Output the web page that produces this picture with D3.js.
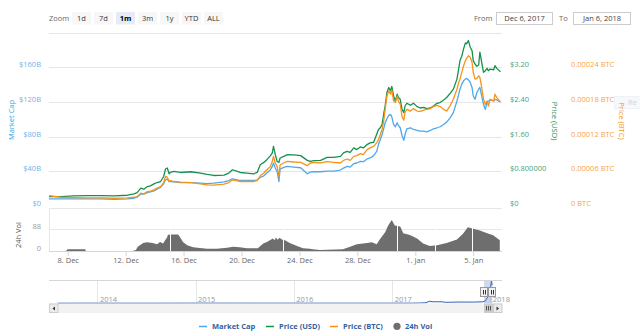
<!DOCTYPE html>
<html><head><meta charset="utf-8">
<script src="https://cdn.jsdelivr.net/npm/d3@7"></script>
<style>body{margin:0;background:#fff}svg{display:block}</style>
</head><body><svg id="c" width="640" height="336"></svg>
<script>
// ---------------- DATA ----------------
// hours since 2017-12-06 00:00 UTC
const hours = [17,36,58,80,103,125,147,158,163,169,174,180,185,191,196,202,207,210,213,216,
218,224,235,252,268,279,290,307,315,321,329,334,345,356,362,367,373,378,384,387,
389,392,395,398,400,406,412,423,434,445,450,456,467,478,489,500,505,511,516,522,
527,533,538,544,549,555,560,563,566,569,572,574,577,580,583,585,588,591,594,596,
599,602,605,607,610,616,621,627,632,638,643,649,654,660,665,671,676,682,687,693,
696,698,701,704,707,709,712,715,718,720,723,726,729,731,734,737,740,743,745,748,
754,756,759,765];
const marketCapB = [8.93,8.93,8.93,8.93,8.93,8.58,8.93,9.74,10.90,14.72,
14.38,16.23,17.04,18.20,20.17,22.49,26.32,30.96,31.77,28.99,
28.99,28.64,27.83,27.83,27.13,26.67,27.13,28.64,30.14,32.12,
30.96,30.14,30.14,30.14,30.96,33.62,35.59,38.72,42.55,46.38,
50.32,44.52,40.58,28.99,43.36,45.22,46.38,45.68,44.87,37.91,
39.88,40.23,40.23,41.04,41.04,42.20,44.52,46.38,45.68,49.51,
50.32,52.17,51.83,54.96,56.11,58.78,63.77,71.53,77.33,83.13,
90.90,96.69,101.33,105.16,106.32,103.65,94.72,92.06,96.69,93.56,
90.90,81.97,76.52,83.13,89.74,90.90,88.93,87.77,86.96,86.96,
86.26,87.77,89.74,90.90,92.06,94.72,97.39,102.49,108.29,121.74,
129.50,135.30,141.10,144.93,146.90,147.71,146.08,143.07,137.27,127.53,
123.71,131.48,135.30,137.27,127.53,117.91,112.11,121.04,121.74,122.90,
121.74,123.71,122.90,120.58];
const priceUsd = [0.232,0.232,0.248,0.255,0.255,0.248,0.264,0.295,0.325,0.427,
0.404,0.464,0.480,0.526,0.557,0.580,0.696,0.867,0.891,0.758,
0.788,0.812,0.788,0.805,0.775,0.742,0.719,0.728,0.775,0.851,
0.812,0.788,0.775,0.758,0.788,0.967,1.020,1.083,1.176,1.238,
1.391,1.199,1.044,1.020,1.122,1.160,1.199,1.192,1.176,1.067,
1.044,1.060,1.067,1.136,1.136,1.160,1.238,1.275,1.252,1.354,
1.315,1.377,1.354,1.431,1.470,1.484,1.670,1.779,1.818,1.895,
2.166,2.319,2.630,2.746,2.667,2.769,2.551,2.435,2.590,2.514,
2.474,2.242,2.166,2.319,2.382,2.335,2.382,2.305,2.273,2.289,
2.259,2.273,2.319,2.382,2.398,2.458,2.514,2.614,2.706,2.938,
3.186,3.363,3.465,3.634,3.773,3.750,3.826,3.673,3.594,3.363,
3.286,3.233,3.263,3.557,3.325,3.094,3.131,3.186,3.131,3.170,
3.154,3.247,3.186,3.107];
// price in satoshi (1e-8 BTC)
const priceBtcSat = [1910,1630,1570,1510,1510,1460,1510,1630,1740,2330,
2210,2610,2680,2900,3200,3480,4170,5220,5110,4350,
4520,4350,4240,4170,3950,3770,3720,3900,4170,4640,
4470,4350,4350,4350,4520,5340,5810,6380,6960,7830,
8700,7550,6960,5220,7250,7550,7830,7720,7650,7080,
7550,7650,7550,7770,7650,7550,8000,8240,8000,8700,
8820,9160,8990,9860,10160,10430,11030,11600,12470,13340,
15080,16820,19130,20000,19420,20170,18260,17980,19130,18260,
17690,15550,14960,16350,16820,16520,16940,16520,16470,16690,
16820,16940,17290,17510,17290,16820,16520,17510,18560,20290,
21460,22030,23200,24350,25220,25630,26090,25810,24940,23200,
22030,22150,22610,22330,20590,18560,17690,18260,17390,18560,
18260,19420,18850,18090];
const volHours = [17,45,48,77,78,155,161,164,173,179,189,196,201,206,213,214,221,231,234,239,
246,256,267,279,295,312,322,333,345,363,372,378,383,388,391,393,396,399,403,408,
416,428,438,449,454,466,504,516,527,544,552,560,565,574,579,585,590,599,604,615,
627,637,648,660,676,693,703,711,720,731,743,753,764];
const vol24h = [0,0,6.8,6.8,0,0,4,17,33,36,33,28,37,31,57,67,68,68,57,37,
24,15,12,9,9,13,17,15,11,11,31,37,44,51,44,55,46,54,47,44,
33,20,11,9,7,4,7,17,28,33,36,28,47,77,104,127,104,100,73,65,
51,31,20,24,33,47,71,97,91,84,73,64,44];
const volGapHours = [219,406,594,657,718];
const navDates = ["2013-08-04","2013-12-01","2014-01-01","2014-06-01","2014-12-01","2015-01-15","2015-06-01","2016-01-01","2016-06-01","2017-01-01","2017-03-15","2017-04-15","2017-05-05","2017-05-17","2017-06-01","2017-06-20","2017-07-05","2017-07-16","2017-08-01","2017-09-01","2017-10-01","2017-11-01","2017-12-01","2017-12-12","2017-12-21","2017-12-27","2017-12-30","2018-01-04","2018-01-06"];
const navMarketCapB = [0.04,0.2,0.15,0.04,0.2,0.5,0.3,0.2,0.25,0.25,0.4,1.4,3,13,10,10,9.5,6,6.5,8,7.5,7.8,9.5,15,44,55,100,148,122];
const navYears = ["2014","2015","2016","2017","2018"];
const xTickDates = ["2017-12-08","2017-12-12","2017-12-16","2017-12-20","2017-12-24","2017-12-28","2018-01-01","2018-01-05"];
const xTickLabels = ["8. Dec","12. Dec","16. Dec","20. Dec","24. Dec","28. Dec","1. Jan","5. Jan"];
const mcapTicks = [0,40,80,120,160,200];
const mcapLabels = ["$0","$40B","$80B","$120B","$160B",""];
const usdTicks = [0,0.8,1.6,2.4,3.2];
const usdLabels = ["$0","$0.800000","$1.60","$2.40","$3.20"];
const btcTicks = [0,6000,12000,18000,24000];
const btcLabels = ["0 BTC","0.00006 BTC","0.00012 BTC","0.00018 BTC","0.00024 BTC"];
const volTicks = [0,88,176];
const volLabels = ["0","88",""];
const zoomButtons = ["1d","7d","1m","3m","1y","YTD","ALL"];
const zoomSelected = "1m";
const rangeFrom = "Dec 6, 2017", rangeTo = "Jan 6, 2018";
const selFromHour = 17, selToHour = 766;
const legendNames = ["Market Cap","Price (USD)","Price (BTC)","24h Vol"];
const resetLabel = "Re";

// ---------------- DRAW ----------------
const FONT = "'Open Sans','DejaVu Sans',sans-serif";
const C = {mc:"#4fa8ea", usd:"#14914f", btc:"#f7931a", vol:"#6e6e6e", grid:"#e6e6e6", axis:"#ccd6eb"};
const svg = d3.select("#c").attr("font-family", FONT);
svg.append("rect").attr("width",640).attr("height",336).attr("fill","#fff");
const t0 = Date.UTC(2017,11,6);
const toDate = h => new Date(t0 + h*3600e3);
const crisp = v => Math.round(v - 0.5) + 0.5;

const plotL = 49, plotR = 501, mainTop = 33, mainBot = 206.7, volTop = 208, volBot = 251;
const x = d3.scaleUtc().domain([toDate(selFromHour), toDate(selToHour)]).range([plotL, plotR]);
const yMc = d3.scaleLinear().domain([0,200]).range([mainBot, mainTop]);
const yUsd = d3.scaleLinear().domain([0,4]).range([mainBot, mainTop]);
const yBtc = d3.scaleLinear().domain([0,30000]).range([mainBot, mainTop]);
const yVol = d3.scaleLinear().domain([0,176]).range([volBot, volTop]);

// gridlines main
svg.append("g").selectAll("line").data(mcapTicks.slice(1)).join("line")
  .attr("x1", plotL).attr("x2", plotR + 1)
  .attr("y1", d => crisp(yMc(d))).attr("y2", d => crisp(yMc(d)))
  .attr("stroke", C.grid);

// volume pane frame + grid
svg.append("g").selectAll("line").data(volTicks.slice(1)).join("line")
  .attr("x1", plotL).attr("x2", plotR + 1)
  .attr("y1", d => crisp(yVol(d))).attr("y2", d => crisp(yVol(d)))
  .attr("stroke", C.grid);
svg.append("line").attr("x1", crisp(plotL)).attr("x2", crisp(plotL))
  .attr("y1", volTop).attr("y2", volBot).attr("stroke", C.grid);

// volume area
const volArea = d3.area().x((d,i) => x(toDate(volHours[i]))).y0(yVol(0)).y1(d => yVol(d));
svg.append("path").datum(vol24h).attr("d", volArea).attr("fill", C.vol);
svg.append("g").selectAll("line").data(volGapHours).join("line")
  .attr("x1", d => crisp(x(toDate(d)))).attr("x2", d => crisp(x(toDate(d))))
  .attr("y1", volTop + 2).attr("y2", volBot).attr("stroke", "#fff").attr("stroke-width", 1);

// x axis
const gx = svg.append("g").attr("transform", `translate(0,${crisp(volBot)-0.5})`)
  .call(d3.axisBottom(x).tickValues(xTickDates.map(d => new Date(d + "T00:00:00Z")))
    .tickFormat((d,i) => xTickLabels[i]).tickSize(5).tickPadding(2));
gx.attr("font-family", FONT).attr("font-size", 7.5);
gx.select(".domain").remove();
gx.selectAll("line").attr("stroke", C.axis);
gx.selectAll("text").attr("fill", "#666");
svg.append("line").attr("x1", plotL).attr("x2", plotR + 1)
  .attr("y1", crisp(volBot)).attr("y2", crisp(volBot)).attr("stroke", C.axis);

// series lines
svg.append("clipPath").attr("id","clipMain").append("rect")
  .attr("x", plotL).attr("y", mainTop - 6).attr("width", plotR - plotL + 1).attr("height", mainBot - mainTop + 7);
const gL = svg.append("g").attr("clip-path","url(#clipMain)").attr("fill","none")
  .attr("stroke-width", 1.3).attr("stroke-linejoin","round");
const mkLine = (arr, ys) => d3.line().x((d,i) => x(toDate(hours[i]))).y(d => ys(d))(arr);
gL.append("path").attr("d", mkLine(marketCapB, yMc)).attr("stroke", C.mc);
gL.append("path").attr("d", mkLine(priceUsd, yUsd)).attr("stroke", C.usd);
gL.append("path").attr("d", mkLine(priceBtcSat, yBtc)).attr("stroke", C.btc);

// y axes
function yAxis(axisFn, scale, vals, labels, tx, pad, color) {
  const g = svg.append("g").attr("transform", `translate(${tx},0)`)
    .call(axisFn(scale).tickValues(vals).tickFormat((d,i) => labels[i]).tickSize(0).tickPadding(pad));
  g.attr("font-family", FONT).attr("font-size", 7.5);
  g.select(".domain").remove();
  g.selectAll("text").attr("fill", color).attr("dy", null).attr("y", -1);
  return g;
}
yAxis(d3.axisLeft, yMc, mcapTicks, mcapLabels, plotL, 8, "#6db4ec");
yAxis(d3.axisRight, yUsd, usdTicks, usdLabels, plotR, 9, "#4da07a");
yAxis(d3.axisRight, yBtc, btcTicks, btcLabels, plotR + 70, 0, "#f8a444");
yAxis(d3.axisLeft, yVol, volTicks, volLabels, plotL, 8, "#999");

// reset zoom button (partially visible at the right edge)
svg.append("rect").attr("x", 614.5).attr("y", 96.5).attr("width", 44).attr("height", 12)
  .attr("fill", "#f6f8fb").attr("stroke", "#eef1f6");
svg.append("text").attr("x", 628).attr("y", 105).attr("font-size", 7.5).attr("fill", "#cfd4dc").text(resetLabel);

// axis titles
const title = (txt, tx, ty, rot, color) => svg.append("text")
  .attr("transform", `translate(${tx},${ty}) rotate(${rot})`).attr("text-anchor", "middle")
  .attr("font-size", 7.5).attr("fill", color).text(txt);
title("Market Cap", 14, 120, -90, "#2f9fe9");
title("24h Vol", 21, 235, -90, "#555");
title("Price (USD)", 551.5, 121, 90, "#149050");
title("Price (BTC)", 619, 121, 90, "#f7931a");

// zoom buttons
svg.append("text").attr("x", 49).attr("y", 20.5).attr("font-size", 7.5).attr("fill", "#666").text("Zoom");
const gb = svg.append("g").selectAll("g").data(zoomButtons).join("g")
  .attr("transform", (d,i) => `translate(${72 + i*22},12)`);
gb.append("rect").attr("width", 19).attr("height", 12.5).attr("fill", d => d === zoomSelected ? "#e6ebf5" : "#f7f7f7");
gb.append("text").attr("x", 9.5).attr("y", 8.7).attr("text-anchor", "middle").attr("font-size", 7.5)
  .attr("font-weight", d => d === zoomSelected ? "bold" : "normal")
  .attr("fill", d => d === zoomSelected ? "#000" : "#333").text(d => d);

// date range inputs
const rng = [["From", 474, 496.5, 56, rangeFrom], ["To", 559, 573.5, 57, rangeTo]];
rng.forEach(([lab, lx, bx, bw, val]) => {
  svg.append("text").attr("x", lx).attr("y", 20.5).attr("font-size", 7.5).attr("fill", "#666").text(lab);
  svg.append("rect").attr("x", bx).attr("y", 12.5).attr("width", bw).attr("height", 12)
    .attr("fill", "#fff").attr("stroke", "#ccc");
  svg.append("text").attr("x", bx + bw/2).attr("y", 20.8).attr("text-anchor", "middle")
    .attr("font-size", 7.5).attr("fill", "#444").text(val);
});

// navigator
const navTop = 280, navBot = 303.5;
const xNav = d3.scaleUtc().domain([new Date("2013-07-03T00:00:00Z"), new Date("2018-02-08T00:00:00Z")]).range([plotL, 501]);
const yNav = d3.scaleLinear().domain([0,150]).range([navBot - 0.3, navTop + 1]);
svg.append("g").selectAll("line").data(navYears).join("line")
  .attr("x1", d => crisp(xNav(new Date(d + "-01-01T00:00:00Z")))).attr("x2", d => crisp(xNav(new Date(d + "-01-01T00:00:00Z"))))
  .attr("y1", navTop).attr("y2", navBot).attr("stroke", C.grid);
svg.append("g").selectAll("text").data(navYears).join("text")
  .attr("x", d => xNav(new Date(d + "-01-01T00:00:00Z")) + 2).attr("y", 301.5)
  .attr("font-size", 7.5).attr("fill", "#999").text(d => d);
const navPts = navDates.map((d,i) => [xNav(new Date(d + "T00:00:00Z")), yNav(navMarketCapB[i])]);
svg.append("path").attr("d", d3.area().x(d => d[0]).y0(navBot).y1(d => d[1])(navPts))
  .attr("fill", "rgba(51,92,173,0.06)");
svg.append("path").attr("d", d3.line()(navPts)).attr("fill", "none").attr("stroke", "#3a63b8").attr("stroke-width", 1);
const sx0 = xNav(toDate(selFromHour)), sx1 = xNav(toDate(selToHour));
svg.append("rect").attr("x", sx0).attr("y", navTop).attr("width", sx1 - sx0).attr("height", navBot - navTop)
  .attr("fill", "rgba(102,133,194,0.3)");
svg.append("line").attr("x1", plotL).attr("x2", 502).attr("y1", navTop + 0.5).attr("y2", navTop + 0.5).attr("stroke", "#d6d6d6");
[sx0, sx1].forEach(hx => {
  const g = svg.append("g").attr("transform", `translate(${Math.round(hx)},0)`);
  g.append("rect").attr("x", -3.5).attr("y", 287.5).attr("width", 7).attr("height", 9)
    .attr("fill", "#f2f2f2").attr("stroke", "#999");
  [-1, 1].forEach(o => g.append("line").attr("x1", o + 0.5).attr("x2", o + 0.5).attr("y1", 290).attr("y2", 294.5).attr("stroke", "#333"));
});

// scrollbar
svg.append("rect").attr("x", plotL).attr("y", 303.5).attr("width", 502 - plotL).attr("height", 9.5).attr("fill", "#f2f2f2");
svg.append("rect").attr("x", plotL + 0.5).attr("y", 304).attr("width", 8.5).attr("height", 8.5).attr("fill", "#ebebeb").attr("stroke", "#ccc");
svg.append("path").attr("d", `M${plotL+6},306.5 L${plotL+6},310.5 L${plotL+3.5},308.5 Z`).attr("fill", "#333");
const thX0 = Math.round(sx0), thX1 = 493;
svg.append("rect").attr("x", thX0).attr("y", 303.5).attr("width", thX1 - thX0).attr("height", 9.5).attr("fill", "#cccccc");
[-2, 0, 2].forEach(o => svg.append("line").attr("x1", (thX0+thX1)/2 + o).attr("x2", (thX0+thX1)/2 + o)
  .attr("y1", 306).attr("y2", 310.5).attr("stroke", "#333").attr("stroke-width", 0.8));
svg.append("rect").attr("x", 493.5).attr("y", 304).attr("width", 8.5).attr("height", 8.5).attr("fill", "#ebebeb").attr("stroke", "#ccc");
svg.append("path").attr("d", "M496.5,306.5 L496.5,310.5 L499,308.5 Z").attr("fill", "#333");

// legend
const legX = [199, 266, 330, 393];
const legColors = [C.mc, C.usd, C.btc, C.vol];
legendNames.forEach((n, i) => {
  const lx = legX[i];
  if (i < 3) {
    svg.append("line").attr("x1", lx).attr("x2", lx + 8).attr("y1", 326.5).attr("y2", 326.5)
      .attr("stroke", legColors[i]).attr("stroke-width", 1.5);
  } else {
    svg.append("circle").attr("cx", lx + 4).attr("cy", 326.3).attr("r", 3.6).attr("fill", legColors[i]);
  }
  svg.append("text").attr("x", lx + (i < 3 ? 13 : 12)).attr("y", 329.3).attr("font-size", 7.5)
    .attr("font-weight", "bold").attr("fill", "#335f9f").text(n);
});
</script></body></html>
